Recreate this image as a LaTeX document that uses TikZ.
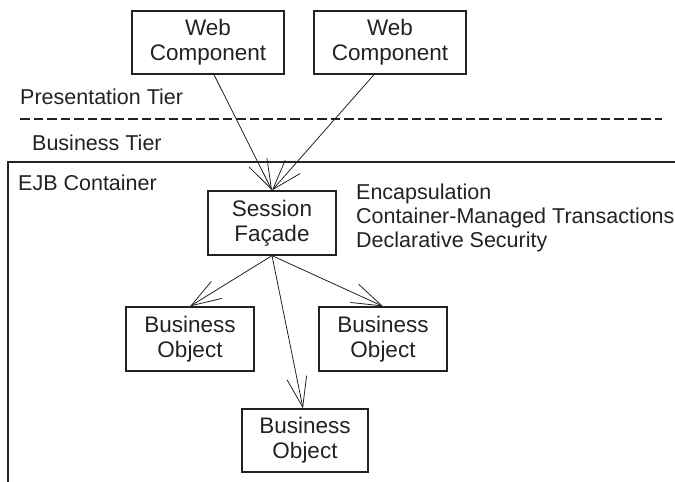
\documentclass[tikz,border=0pt]{standalone}
\usepackage{fontspec}
\setmainfont{Liberation Sans}
\usetikzlibrary{arrows.meta}
\definecolor{ink}{HTML}{222222}

\begin{document}
\begin{tikzpicture}[x=1pt, y=-1pt,
  main/.style = {draw=ink, line width=1.3pt, rectangle, minimum width=128pt, minimum height=64pt, align=center, inner sep=0pt, text=ink, font=\fontsize{22.5}{25}\selectfont},
  label/.style = {text=ink, anchor=west, inner sep=0pt, font=\fontsize{21.5}{24}\selectfont},
  link/.style = {draw=ink, line width=0.8pt, -{Straight Barb[length=30pt,width=20pt]}}]
	\useasboundingbox (0,0) rectangle (675,482);
	% presentation tier
	\node[main, minimum width=152pt, minimum height=63pt] (web1) at (208,42.5) {Web\\Component};
	\node[main, minimum width=152pt, minimum height=63pt] (web2) at (390,42.5) {Web\\Component};
	\node[label] (pt) at (20,97) {Presentation Tier};
	\coordinate (d1) at (20,119);
	\coordinate (d2) at (662,119);
	\draw[ink, line width=1.3pt, dash pattern=on 9.5pt off 4pt] (d1) -- (d2);
	\node[label] (bt) at (32,143) {Business Tier};
	% EJB container
	\coordinate (c1) at (8,482);
	\coordinate (c2) at (8,162);
	\coordinate (c3) at (675,162);
	\draw[ink, line width=1.1pt] (c1) -- (c2) -- (c3);
	\node[label] (ejb) at (18,183) {EJB Container};
	\node[main] (sf) at (272,223) {Session\\Façade};
	\node[label, align=left, anchor=north west] (feat) at (356,184) {Encapsulation\\Container-Managed Transactions\\Declarative Security};
	\node[main] (bo1) at (190,339) {Business\\Object};
	\node[main] (bo2) at (383,339) {Business\\Object};
	\node[main, minimum width=126pt, minimum height=63pt] (bo3) at (305,440.5) {Business\\Object};
	% calls
	\draw[link] ([xshift=6pt]web1.south) -- (sf.north);
	\draw[link] ([xshift=-16pt]web2.south) -- (sf.north);
	\draw[link] (sf.south) -- (bo1.north);
	\draw[link] (sf.south) -- (bo2.north);
	\draw[link] (sf.south) -- ([xshift=-2pt]bo3.north);
\end{tikzpicture}
\end{document}
